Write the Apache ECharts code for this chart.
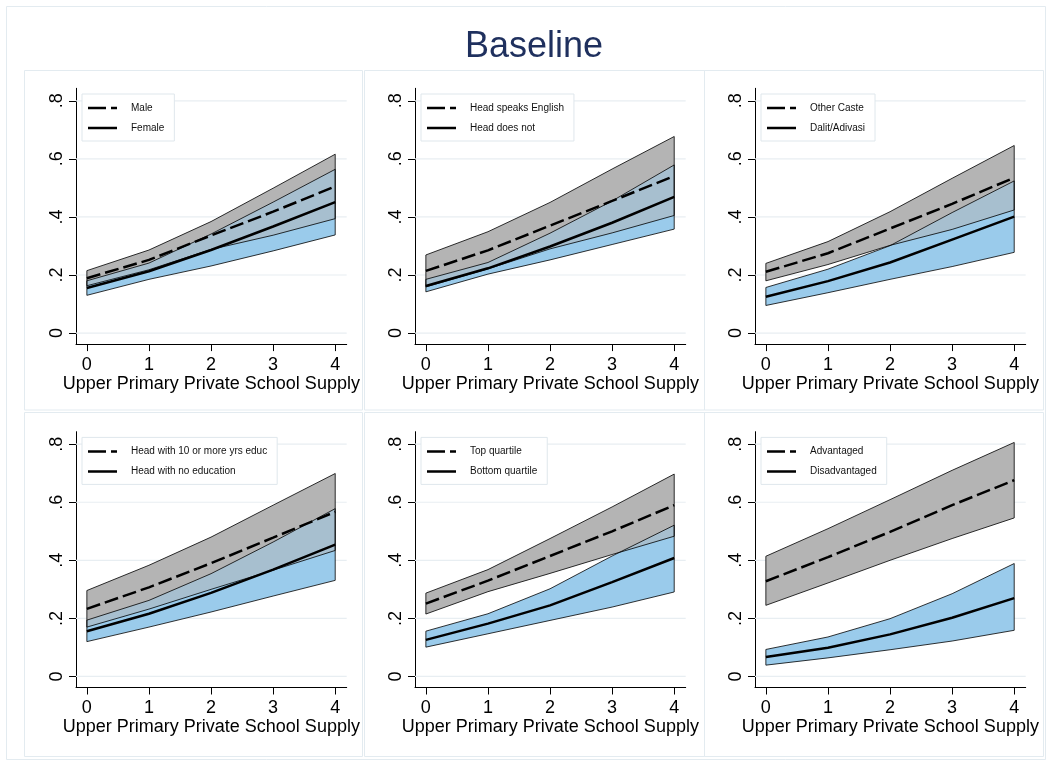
<!DOCTYPE html>
<html><head><meta charset="utf-8">
<script src="https://cdn.jsdelivr.net/npm/echarts@6/dist/echarts.min.js"></script>
<style>html,body{margin:0;padding:0;background:#fff}#c{width:1052px;height:766px}</style>
</head><body><div id="c"></div>
<script>
// ---------- data ----------
const chartTitle = 'Baseline';
const xAxisTitle = 'Upper Primary Private School Supply';
const xs = [0, 1, 2, 3, 4];
const xTickLabels = ['0', '1', '2', '3', '4'];
const yTickValues = [0, 0.2, 0.4, 0.6, 0.8];
const yTickLabels = ['0', '.2', '.4', '.6', '.8'];

// Panel 1: gender
const p1Names = ['Male', 'Female'];
const p1AMean = [0.189, 0.252, 0.336, 0.418, 0.505];
const p1AHi   = [0.215, 0.286, 0.384, 0.499, 0.616];
const p1ALo   = [0.163, 0.218, 0.288, 0.337, 0.394];
const p1BMean = [0.155, 0.213, 0.286, 0.367, 0.451];
const p1BHi   = [0.180, 0.241, 0.341, 0.451, 0.564];
const p1BLo   = [0.130, 0.185, 0.231, 0.283, 0.338];

// Panel 2: English
const p2Names = ['Head speaks English', 'Head does not'];
const p2AMean = [0.214, 0.285, 0.370, 0.455, 0.541];
const p2AHi   = [0.269, 0.349, 0.450, 0.565, 0.677];
const p2ALo   = [0.159, 0.221, 0.290, 0.345, 0.405];
const p2BMean = [0.162, 0.223, 0.298, 0.380, 0.469];
const p2BHi   = [0.185, 0.243, 0.344, 0.455, 0.579];
const p2BLo   = [0.142, 0.203, 0.252, 0.305, 0.358];

// Panel 3: caste
const p3Names = ['Other Caste', 'Dalit/Adivasi'];
const p3AMean = [0.211, 0.275, 0.360, 0.445, 0.535];
const p3AHi   = [0.240, 0.315, 0.418, 0.533, 0.646];
const p3ALo   = [0.180, 0.236, 0.302, 0.357, 0.424];
const p3BMean = [0.125, 0.179, 0.243, 0.322, 0.401];
const p3BHi   = [0.157, 0.220, 0.301, 0.415, 0.524];
const p3BLo   = [0.095, 0.139, 0.185, 0.229, 0.278];

// Panel 4: education
const p4Names = ['Head with 10 or more yrs educ', 'Head with no education'];
const p4AMean = [0.233, 0.307, 0.390, 0.478, 0.567];
const p4AHi   = [0.296, 0.383, 0.480, 0.590, 0.699];
const p4ALo   = [0.170, 0.232, 0.300, 0.366, 0.434];
const p4BMean = [0.156, 0.216, 0.288, 0.368, 0.454];
const p4BHi   = [0.194, 0.262, 0.354, 0.463, 0.578];
const p4BLo   = [0.120, 0.170, 0.222, 0.277, 0.331];

// Panel 5: wealth quartile
const p5Names = ['Top quartile', 'Bottom quartile'];
const p5AMean = [0.251, 0.330, 0.415, 0.500, 0.590];
const p5AHi   = [0.287, 0.368, 0.475, 0.584, 0.697];
const p5ALo   = [0.215, 0.292, 0.355, 0.420, 0.483];
const p5BMean = [0.126, 0.182, 0.245, 0.325, 0.408];
const p5BHi   = [0.156, 0.216, 0.302, 0.415, 0.521];
const p5BLo   = [0.101, 0.147, 0.193, 0.239, 0.291];

// Panel 6: advantaged
const p6Names = ['Advantaged', 'Disadvantaged'];
const p6AMean = [0.328, 0.411, 0.498, 0.590, 0.676];
const p6AHi   = [0.414, 0.509, 0.609, 0.710, 0.806];
const p6ALo   = [0.245, 0.322, 0.400, 0.475, 0.546];
const p6BMean = [0.067, 0.099, 0.145, 0.202, 0.270];
const p6BHi   = [0.093, 0.136, 0.199, 0.285, 0.389];
const p6BLo   = [0.039, 0.064, 0.092, 0.122, 0.159];

// ---------- layout / style ----------
const FONT = 'Liberation Sans, Arial, sans-serif';
const GRAY = '#b4b4b4';
const BLUE = '#9acbeb';
const GRIDC = '#e8eef2';
const FRAMEC = '#e3ebf0';
const colLeft = [76, 415, 755];
const rowTop = [88.3, 431.7];
const gridW = 270.7, gridH = 255.8;
const xMin = -0.175, xMax = 4.185, yMin = -0.038, yMax = 0.843;
// legend sample icons (29 x 10 box, thick stroke centred)
const ICON_DASH = 'path://M0,0L0.01,0ZM0,10L0.01,10ZM0,3.75H18V6.25H0ZM23,3.75H29V6.25H23Z';
const ICON_SOLID = 'path://M0,0L0.01,0ZM0,10L0.01,10ZM0,3.75H29V6.25H0Z';

const panels = [
  {names: p1Names, aMean: p1AMean, aHi: p1AHi, aLo: p1ALo, bMean: p1BMean, bHi: p1BHi, bLo: p1BLo},
  {names: p2Names, aMean: p2AMean, aHi: p2AHi, aLo: p2ALo, bMean: p2BMean, bHi: p2BHi, bLo: p2BLo},
  {names: p3Names, aMean: p3AMean, aHi: p3AHi, aLo: p3ALo, bMean: p3BMean, bHi: p3BHi, bLo: p3BLo},
  {names: p4Names, aMean: p4AMean, aHi: p4AHi, aLo: p4ALo, bMean: p4BMean, bHi: p4BHi, bLo: p4BLo},
  {names: p5Names, aMean: p5AMean, aHi: p5AHi, aLo: p5ALo, bMean: p5BMean, bHi: p5BHi, bLo: p5BLo},
  {names: p6Names, aMean: p6AMean, aHi: p6AHi, aLo: p6ALo, bMean: p6BMean, bHi: p6BHi, bLo: p6BLo}
];

function labelFor(vals, labels) {
  return function (v) {
    for (let k = 0; k < vals.length; k++) if (Math.abs(vals[k] - v) < 1e-9) return labels[k];
    return '';
  };
}

function band(i, lo, hi, style, z) {
  return {
    type: 'custom', xAxisIndex: i, yAxisIndex: i, z: z, silent: true, clip: false,
    data: xs.map((x, k) => [x, lo[k], hi[k]]),
    encode: {x: 0, y: [1, 2]},
    renderItem: function (params, api) {
      if (params.dataIndex !== 0) return null;
      const pts = [];
      for (let k = 0; k < xs.length; k++) pts.push(api.coord([xs[k], hi[k]]));
      for (let k = xs.length - 1; k >= 0; k--) pts.push(api.coord([xs[k], lo[k]]));
      return {type: 'polygon', shape: {points: pts}, style: Object.assign({}, style)};
    }
  };
}

function gridLines(i) {
  return {
    type: 'custom', xAxisIndex: i, yAxisIndex: i, z: 1, silent: true, clip: false,
    data: yTickValues.map(v => [xMin, v]),
    encode: {x: 0, y: 1},
    renderItem: function (params, api) {
      const v = api.value(1);
      const a = api.coord([xMin, v]), b = api.coord([xMax, v]);
      return {type: 'line', shape: {x1: a[0], y1: a[1], x2: b[0], y2: b[1]},
        style: {stroke: GRIDC, lineWidth: 1.2}};
    }
  };
}

const grids = [], xAxes = [], yAxes = [], legends = [], series = [];
panels.forEach((p, i) => {
  const left = colLeft[i % 3], top = rowTop[Math.floor(i / 3)];
  grids.push({left: left, top: top, width: gridW, height: gridH, containLabel: false});
  xAxes.push({
    gridIndex: i, type: 'value', min: xMin, max: xMax,
    axisLine: {show: true, onZero: false, lineStyle: {color: '#000', width: 1}},
    axisTick: {show: true, inside: false, length: 7, customValues: xs, lineStyle: {color: '#000', width: 1}},
    axisLabel: {show: true, customValues: xs, formatter: labelFor(xs, xTickLabels), fontSize: 18, fontFamily: FONT, color: '#000', margin: 12},
    splitLine: {show: false},
    name: xAxisTitle, nameLocation: 'middle', nameGap: 30,
    nameTextStyle: {fontSize: 18, fontFamily: FONT, color: '#000'}
  });
  yAxes.push({
    gridIndex: i, type: 'value', min: yMin, max: yMax,
    axisLine: {show: true, onZero: false, lineStyle: {color: '#000', width: 1}},
    axisTick: {show: true, inside: false, length: 7, customValues: yTickValues, lineStyle: {color: '#000', width: 1}},
    axisLabel: {show: true, customValues: yTickValues, formatter: labelFor(yTickValues, yTickLabels), rotate: 90, fontSize: 18, fontFamily: FONT, color: '#000', margin: 10},
    splitLine: {show: false}
  });
  legends.push({
    orient: 'vertical', left: left + 6, top: top + 5.7,
    data: [{name: p.names[0], icon: ICON_DASH}, {name: p.names[1], icon: ICON_SOLID}],
    itemWidth: 29, itemHeight: 10, itemGap: 10,
    padding: [9, 10, 8, 6],
    backgroundColor: '#fff', borderColor: '#dfe7ec', borderWidth: 1, borderRadius: 0,
    itemStyle: {color: '#000', borderWidth: 0},
    textStyle: {fontFamily: FONT, fontSize: 10, color: '#111', lineHeight: 10, padding: [0, 0, 0, 9]},
    selectedMode: false
  });
  const ax = {xAxisIndex: i, yAxisIndex: i};
  series.push(gridLines(i));
  series.push(band(i, p.aLo, p.aHi, {fill: GRAY}, 2));
  series.push(band(i, p.bLo, p.bHi, {fill: BLUE}, 3));
  series.push(band(i, p.aLo, p.aHi, {fill: GRAY, opacity: 0.5}, 4));
  series.push(band(i, p.aLo, p.aHi, {fill: 'none', stroke: '#000', lineWidth: 0.8}, 5));
  series.push(band(i, p.bLo, p.bHi, {fill: 'none', stroke: '#000', lineWidth: 0.8}, 5));
  series.push(Object.assign({
    type: 'line', name: p.names[0], data: xs.map((x, k) => [x, p.aMean[k]]),
    symbol: 'none', showSymbol: false, z: 6, silent: true,
    lineStyle: {color: '#000', width: 2.5, type: [14, 5]}, itemStyle: {color: '#000'}
  }, ax));
  series.push(Object.assign({
    type: 'line', name: p.names[1], data: xs.map((x, k) => [x, p.bMean[k]]),
    symbol: 'none', showSymbol: false, z: 6, silent: true,
    lineStyle: {color: '#000', width: 2.5, type: 'solid'}, itemStyle: {color: '#000'}
  }, ax));
});

const frames = [
  [6.5, 6.5, 1039, 753],
  [24.5, 70.5, 338, 339.5], [364.5, 70.5, 340, 339.5], [704.5, 70.5, 339, 339.5],
  [24.5, 412.5, 338, 344], [364.5, 412.5, 340, 344], [704.5, 412.5, 339, 344]
];
const graphic = frames.map(f => ({
  type: 'rect', z: -10, silent: true,
  shape: {x: f[0], y: f[1], width: f[2], height: f[3]},
  style: {fill: 'none', stroke: FRAMEC, lineWidth: 1}
}));
graphic.push({
  type: 'text', z: 10, silent: true, x: 534, y: 47,
  style: {text: chartTitle, fontSize: 36, fontFamily: FONT, fill: '#1f305e', align: 'center', verticalAlign: 'middle'}
});

const chart = echarts.init(document.getElementById('c'), null, {renderer: 'canvas'});
chart.setOption({
  animation: false,
  backgroundColor: '#fff',
  grid: grids, xAxis: xAxes, yAxis: yAxes, legend: legends, series: series,
  graphic: graphic
});
</script></body></html>
